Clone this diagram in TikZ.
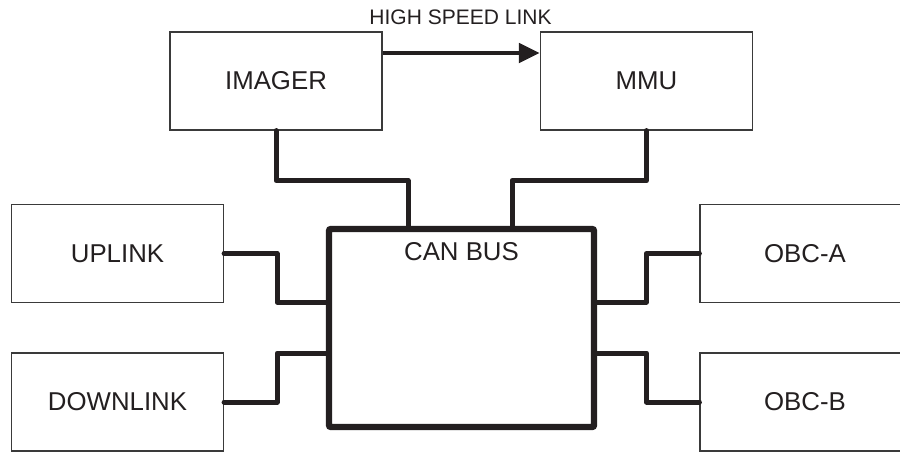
\documentclass[tikz,border=0pt]{standalone}
\usepackage{fontspec}
\setmainfont{Liberation Sans}
\usepackage{tikz}
\usetikzlibrary{arrows.meta,positioning,calc}
\definecolor{BusInk}{HTML}{231F20}
\definecolor{BoxLine}{HTML}{3A3A3A}
\tikzset{
  unit/.style={draw=BoxLine, line width=0.6pt, fill=white, inner sep=0pt,
               minimum width=106pt, minimum height=49pt, align=center,
               font=\fontsize{12.9}{15}\selectfont, text=BusInk},
  busbox/.style={draw=BusInk, line width=3.2pt, rounded corners=1pt, inner sep=0pt,
                 minimum width=132.5pt, minimum height=99pt},
  wire/.style={draw=BusInk, line width=2.5pt, line cap=round, line join=round},
  hslink/.style={-{Triangle[length=10.5pt,width=9.5pt]}, draw=BusInk, line width=2.4pt},
  tag/.style={font=\fontsize{10.5}{12}\selectfont, text=BusInk, inner sep=0pt},
}
\begin{document}
\begin{tikzpicture}[x=0.5pt,y=-0.5pt]
  \clip (0,0) rectangle (900,452);
  % units round the bus
  \node[unit] (imager) at (276,81) {IMAGER};
  \node[unit] (mmu) at (646.5,81) {MMU};
  \node[unit] (uplink) at (117.5,253.5) {UPLINK};
  \node[unit] (downlink) at (117.5,402) {DOWNLINK};
  \node[unit, minimum width=105pt] (obca) at (805,253.5) {OBC-A};
  \node[unit, minimum width=105pt] (obcb) at (805,402) {OBC-B};
  \node[busbox] (can) at (461.5,328) {};
  \node[tag, font=\fontsize{12.9}{15}\selectfont] (canlbl) at (461.5,252) {CAN BUS};
  % high speed link
  \draw[hslink] (imager.east |- 0,53) -- (mmu.west |- 0,53);
  \node[tag] (hsl) at (460.5,17) {HIGH SPEED LINK};
  % bus wires
  \draw[wire] (imager.south) -- ++(0,50) -| (can.north -| 408,0);
  \draw[wire] (mmu.south) -- ++(0,50) -| (can.north -| 512,0);
  \draw[wire] (uplink.east) -- ++(53,0) |- (can.west |- 0,302);
  \draw[wire] (downlink.east) -- ++(53,0) |- (can.west |- 0,353);
  \draw[wire] (obca.west) -- ++(-53,0) |- (can.east |- 0,302);
  \draw[wire] (obcb.west) -- ++(-53,0) |- (can.east |- 0,353);
\end{tikzpicture}
\end{document}
